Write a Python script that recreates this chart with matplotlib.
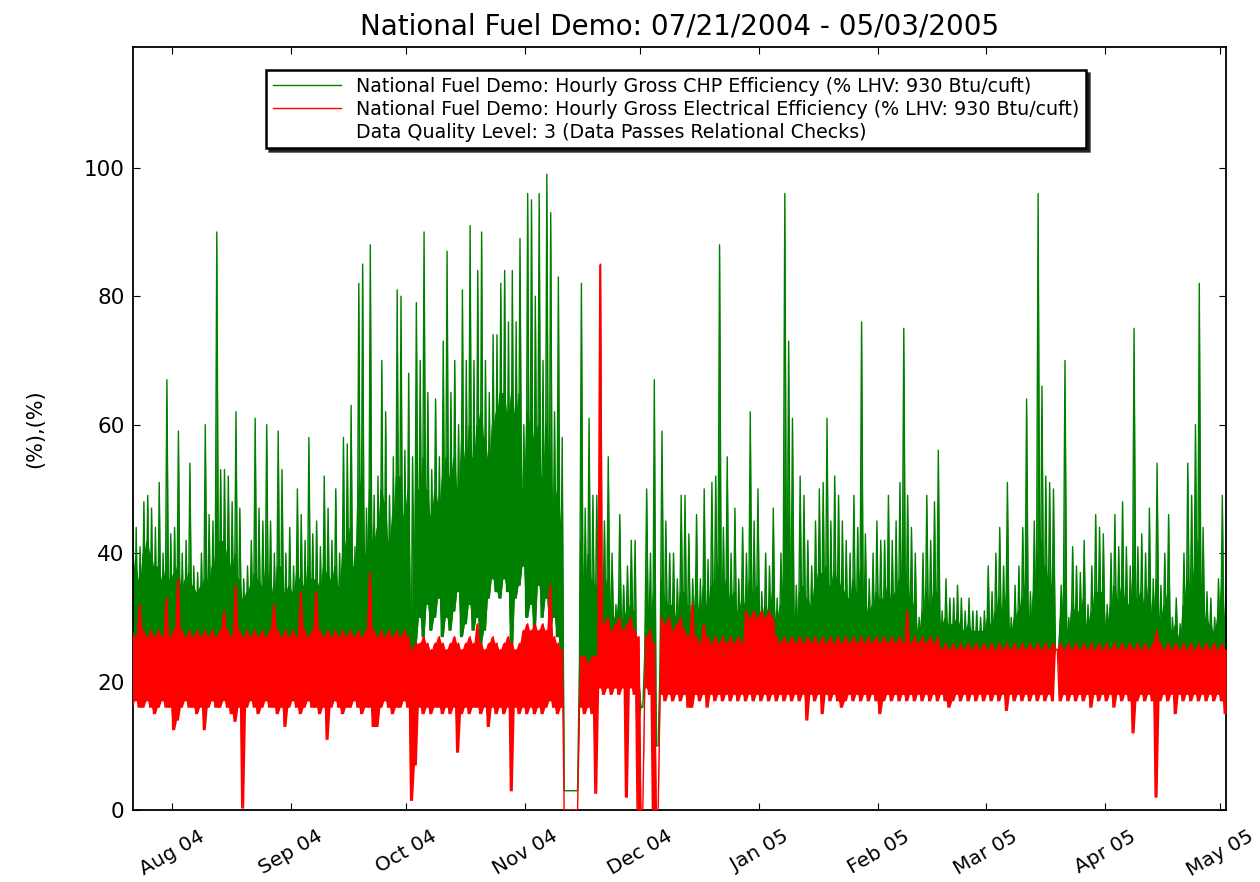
import numpy as np
import pandas as pd
import matplotlib
matplotlib.use("Agg")
import matplotlib.pyplot as plt
import matplotlib.dates as mdates

# Daily values, one value per day from 07/21/2004
start = "2004-07-21"

# CHP efficiency: daily peak, daily floor, and top of the dense part of the band
chp_hi = [50, 44, 41, 48, 49, 47, 44, 51, 40, 67,
          43, 44, 59, 40, 42, 54, 38, 37, 40, 60,
          46, 45, 90, 53, 53, 52, 48, 62, 47, 36,
          38, 42, 61, 47, 45, 60, 45, 40, 59, 53,
          40, 44, 38, 50, 46, 42, 58, 43, 45, 41,
          52, 47, 42, 50, 40, 58, 57, 63, 41, 82,
          85, 47, 88, 49, 52, 70, 62, 49, 55, 81,
          80, 56, 68, 55, 79, 70, 90, 65, 53, 64,
          55, 73, 87, 65, 70, 60, 81, 70, 91, 70,
          84, 90, 70, 65, 74, 74, 82, 84, 76, 84,
          76, 89, 60, 96, 95, 80, 96, 70, 99, 93,
          62, 83, 58, 3, 3, 3, 3, 82, 47, 61,
          49, 49, 43, 45, 55, 40, 32, 46, 35, 38,
          42, 42, 20, 16, 50, 40, 67, 10, 59, 45,
          40, 40, 36, 49, 49, 43, 36, 46, 36, 50,
          39, 51, 52, 88, 44, 55, 40, 47, 36, 44,
          40, 62, 45, 50, 34, 40, 38, 47, 33, 40,
          96, 73, 61, 35, 52, 49, 42, 38, 45, 50,
          51, 61, 45, 52, 49, 45, 42, 40, 49, 44,
          76, 43, 36, 40, 45, 42, 42, 49, 42, 45,
          51, 75, 49, 44, 40, 30, 40, 49, 42, 48,
          56, 31, 36, 33, 33, 35, 33, 31, 33, 31,
          31, 30, 31, 38, 34, 40, 44, 38, 51, 30,
          35, 38, 44, 64, 34, 45, 96, 66, 52, 51,
          50, 25, 35, 70, 30, 41, 38, 37, 42, 32,
          38, 46, 44, 43, 32, 40, 46, 41, 48, 41,
          38, 75, 41, 43, 40, 47, 36, 54, 35, 40,
          46, 30, 33, 29, 40, 54, 49, 60, 82, 44,
          34, 33, 30, 36, 49, 35]

chp_band = [42, 38, 36, 40, 42, 40, 38,
            38, 36, 38, 36, 37, 38, 35,
            36, 37, 35, 34, 35, 36, 36,
            38, 40, 42, 42, 40, 38, 40,
            36, 33, 34, 35, 37, 36, 35,
            38, 36, 34, 38, 38, 34, 35,
            34, 37, 36, 35, 38, 36, 36,
            35, 38, 37, 36, 38, 35, 40,
            42, 44, 38, 50, 52, 40, 50,
            42, 44, 50, 48, 42, 46, 52,
            52, 46, 50, 30, 50, 50, 55,
            50, 46, 50, 48, 52, 55, 52,
            55, 50, 58, 55, 60, 55, 60,
            62, 58, 55, 60, 62, 65, 65,
            62, 65, 62, 65, 50, 62, 60,
            58, 60, 52, 60, 55, 48, 50,
            45, 3, 3, 3, 3, 42, 36,
            40, 36, 35, 33, 34, 36, 32,
            30, 33, 30, 31, 32, 31, 20,
            16, 32, 30, 34, 10, 36, 33,
            32, 32, 30, 34, 34, 32, 30,
            34, 31, 35, 32, 35, 36, 38,
            34, 36, 33, 34, 31, 33, 32,
            36, 34, 35, 30, 32, 31, 34,
            30, 32, 38, 40, 36, 28, 34,
            35, 33, 32, 35, 37, 37, 38,
            35, 37, 36, 35, 34, 33, 36,
            34, 38, 33, 31, 32, 34, 33,
            33, 35, 33, 34, 36, 38, 35,
            33, 32, 28, 31, 34, 32, 34,
            34, 29, 30, 29, 29, 30, 29,
            28, 29, 28, 28, 28, 28, 30,
            29, 31, 33, 31, 34, 28, 30,
            31, 33, 36, 30, 34, 40, 42,
            38, 36, 35, 25, 30, 36, 28,
            32, 31, 31, 33, 29, 31, 34,
            34, 34, 29, 32, 35, 33, 35,
            33, 32, 38, 33, 34, 32, 35,
            31, 36, 30, 32, 34, 28, 29,
            27, 32, 36, 35, 38, 42, 34,
            30, 29, 28, 30, 35, 30]

chp_lo = [24, 24, 23, 24, 25, 24, 24, 23, 24, 25,
          24, 24, 23, 24, 24, 25, 24, 23, 24, 24,
          25, 24, 24, 23, 24, 24, 25, 24, 23, 24,
          24, 25, 24, 24, 23, 24, 25, 24, 24, 23,
          24, 24, 25, 24, 23, 24, 24, 25, 24, 24,
          23, 24, 24, 25, 24, 23, 24, 24, 25, 24,
          24, 23, 24, 25, 24, 24, 23, 24, 25, 24,
          24, 23, 24, 7, 26, 30, 27, 32, 28, 30,
          33, 27, 30, 28, 31, 34, 27, 29, 32, 28,
          30, 26, 28, 33, 36, 34, 33, 36, 34, 24,
          33, 35, 38, 30, 32, 28, 35, 30, 33, 28,
          30, 27, 24, 3, 3, 3, 3, 23, 22, 22,
          22, 23, 24, 25, 24, 25, 24, 25, 24, 25,
          24, 24, 14, 16, 24, 24, 12, 10, 23, 23,
          23, 23, 23, 23, 23, 23, 23, 23, 23, 23,
          23, 23, 23, 23, 23, 23, 23, 23, 23, 23,
          23, 23, 23, 23, 23, 23, 23, 23, 23, 23,
          23, 23, 23, 23, 23, 23, 23, 23, 23, 23,
          23, 23, 23, 23, 23, 23, 23, 23, 23, 23,
          23, 23, 23, 23, 23, 23, 23, 23, 23, 23,
          23, 23, 23, 23, 23, 23, 23, 23, 23, 23,
          23, 23, 23, 23, 23, 23, 23, 23, 23, 23,
          23, 23, 23, 23, 23, 23, 23, 23, 23, 23,
          23, 23, 23, 23, 23, 23, 23, 23, 23, 23,
          23, 25, 23, 23, 23, 23, 23, 23, 23, 23,
          23, 23, 23, 23, 23, 23, 23, 23, 23, 23,
          23, 23, 23, 23, 23, 23, 23, 23, 23, 23,
          23, 23, 23, 23, 23, 23, 23, 23, 23, 23,
          23, 23, 23, 23, 23, 23]

# Electrical efficiency: daily high and low
elec_hi = [28, 27, 32, 28, 27, 28, 27, 28, 27, 33,
           27, 28, 36, 28, 27, 28, 27, 28, 27, 28,
           27, 28, 27, 28, 31, 28, 27, 35, 28, 27,
           28, 27, 28, 27, 28, 27, 28, 32, 28, 27,
           28, 27, 28, 27, 34, 28, 27, 28, 34, 28,
           27, 28, 27, 28, 27, 28, 27, 28, 27, 28,
           27, 28, 37, 28, 27, 28, 27, 28, 27, 28,
           27, 28, 27, 25, 26, 26, 27, 26, 25, 26,
           27, 26, 25, 26, 27, 26, 25, 26, 27, 26,
           29, 26, 25, 26, 27, 26, 25, 26, 27, 26,
           25, 26, 28, 29, 28, 29, 28, 29, 28, 35,
           27, 26, 25, 0, 0, 0, 0, 24, 24, 23,
           24, 24, 85, 29, 30, 28, 29, 30, 28, 29,
           30, 28, 27, 0, 27, 28, 26, 0, 30, 29,
           30, 28, 29, 30, 28, 27, 32, 27, 26, 29,
           27, 26, 27, 26, 27, 26, 27, 26, 27, 26,
           31, 30, 31, 30, 31, 30, 31, 30, 27, 26,
           27, 26, 27, 26, 27, 26, 27, 26, 27, 26,
           27, 26, 27, 26, 27, 26, 27, 26, 27, 26,
           27, 26, 27, 26, 27, 26, 27, 26, 27, 26,
           27, 26, 31, 26, 27, 26, 27, 26, 27, 26,
           27, 25, 26, 25, 26, 25, 26, 25, 26, 25,
           26, 25, 26, 25, 26, 25, 26, 25, 26, 25,
           26, 25, 26, 25, 26, 25, 26, 25, 26, 25,
           26, 25, 26, 25, 26, 25, 26, 25, 26, 25,
           26, 25, 26, 25, 26, 25, 26, 25, 26, 25,
           26, 25, 26, 25, 26, 25, 26, 28, 26, 25,
           26, 25, 26, 25, 26, 25, 26, 25, 26, 25,
           26, 25, 26, 25, 26, 25]

elec_lo = [16, 17, 16, 16, 17, 16, 15, 16, 17, 16,
           16, 12.5, 14, 16, 17, 16, 16, 15, 16, 12.5,
           16, 17, 16, 16, 17, 16, 15, 13.8, 16, 0.3,
           16, 17, 16, 15, 16, 17, 16, 16, 15, 16,
           13, 16, 17, 16, 15, 16, 17, 16, 16, 15,
           16, 11, 16, 17, 16, 15, 16, 16, 17, 16,
           15, 16, 16, 13, 13, 16, 17, 16, 15, 16,
           16, 17, 16, 1.5, 7, 16, 15, 16, 15, 16,
           16, 15, 16, 15, 16, 9, 15, 16, 15, 16,
           16, 15, 16, 13, 16, 15, 16, 15, 16, 3,
           16, 15, 16, 15, 16, 15, 16, 15, 16, 17,
           16, 15, 16, 0, 0, 0, 0, 16, 15, 16,
           15, 2.6, 19, 18, 19, 18, 19, 18, 19, 2,
           19, 18, 0, 0, 19, 18, 0, 0, 18, 17,
           18, 17, 18, 17, 18, 16, 16, 18, 17, 18,
           16, 18, 17, 18, 17, 18, 17, 18, 17, 18,
           17, 18, 17, 18, 17, 18, 17, 18, 17, 18,
           17, 18, 17, 18, 17, 18, 14, 18, 17, 18,
           15, 18, 17, 18, 17, 16, 17, 18, 17, 18,
           17, 18, 17, 18, 17, 15, 17, 18, 17, 18,
           17, 18, 17, 18, 17, 18, 17, 18, 17, 18,
           17, 18, 17, 16, 17, 18, 17, 18, 17, 18,
           17, 18, 17, 18, 17, 18, 17, 18, 15.5, 18,
           17, 18, 17, 18, 17, 18, 17, 18, 17, 18,
           17, 25, 17, 18, 17, 18, 17, 18, 17, 18,
           16, 18, 17, 18, 17, 18, 16, 18, 17, 18,
           17, 12, 17, 18, 17, 18, 17, 2, 17, 18,
           17, 18, 15, 18, 17, 18, 17, 18, 17, 18,
           17, 18, 17, 18, 17, 15]

legend_labels = [
    "National Fuel Demo: Hourly Gross CHP Efficiency (% LHV: 930 Btu/cuft)",
    "National Fuel Demo: Hourly Gross Electrical Efficiency (% LHV: 930 Btu/cuft)",
    "Data Quality Level: 3 (Data Passes Relational Checks)",
]


def sample_times(n):
    # two samples per day: a low one early, a high one later
    days = pd.date_range(start, periods=n, freq="D")
    t = np.empty(2 * n, dtype="datetime64[ns]")
    t[0::2] = (days + pd.Timedelta(hours=3)).values
    t[1::2] = (days + pd.Timedelta(hours=15)).values
    return t


def zigzag(lo, hi):
    v = np.empty(2 * len(lo))
    v[0::2] = lo
    v[1::2] = hi
    return v


def twice(a):
    return np.repeat(np.asarray(a, dtype=float), 2)


t = sample_times(len(chp_hi))
v_chp = zigzag(chp_lo, chp_hi)
v_ele = zigzag(elec_lo, elec_hi)

green = "#008000"
red = "#ff0000"

fig = plt.figure(figsize=(12.6, 8.82), dpi=100)
ax = fig.add_axes([133 / 1260, 72 / 882, 1093 / 1260, 763 / 882])

# CHP: dense band plus the daily spikes
ax.fill_between(t, twice(chp_band), twice(chp_lo), color=green, linewidth=0, zorder=1)
ax.fill_between(t, v_chp, twice(chp_lo), color=green, linewidth=0, zorder=1)
ax.plot(t, v_chp, color=green, linewidth=1.0, zorder=2, label=legend_labels[0])

# Electrical: daily high/low band
ax.fill_between(t, twice(elec_hi), twice(elec_lo), color=red, linewidth=0, zorder=3)
ax.plot(t, v_ele, color=red, linewidth=1.0, zorder=4, label=legend_labels[1])
ax.plot([], [], color="white", linewidth=1.0, label=legend_labels[2])

ax.set_xlim(pd.Timestamp("2004-07-21 19:00"), pd.Timestamp("2005-05-02 14:00"))
ax.set_ylim(0, 1.2 * max(chp_hi))

ax.xaxis.set_major_locator(mdates.MonthLocator())
ax.xaxis.set_major_formatter(mdates.DateFormatter("%b %y"))
ax.set_yticks([0, 20, 40, 60, 80, 100])
ax.tick_params(direction="in", top=True, right=True, length=5)
ax.tick_params(axis="x", labelsize=14.5, pad=12)
ax.tick_params(axis="y", labelsize=15.5, pad=6)
plt.setp(ax.get_xticklabels(), rotation=30, ha="center")

ax.set_ylabel("(%),(%)", fontsize=15)
ax.yaxis.set_label_coords(-0.08, 0.5)
ax.set_title("National Fuel Demo: 07/21/2004 - 05/03/2005", fontsize=20, pad=9)

for s in ax.spines.values():
    s.set_linewidth(1.3)

leg = ax.legend(loc="upper center", bbox_to_anchor=(0.497, 0.982), fontsize=13.7,
                shadow={"color": "black", "alpha": 0.75}, fancybox=False,
                handlelength=3.6, handletextpad=0.8, labelspacing=0.2,
                borderpad=0.35)
leg.get_frame().set_edgecolor("black")
leg.get_frame().set_linewidth(1.8)

plt.savefig("out.png", dpi=100)
